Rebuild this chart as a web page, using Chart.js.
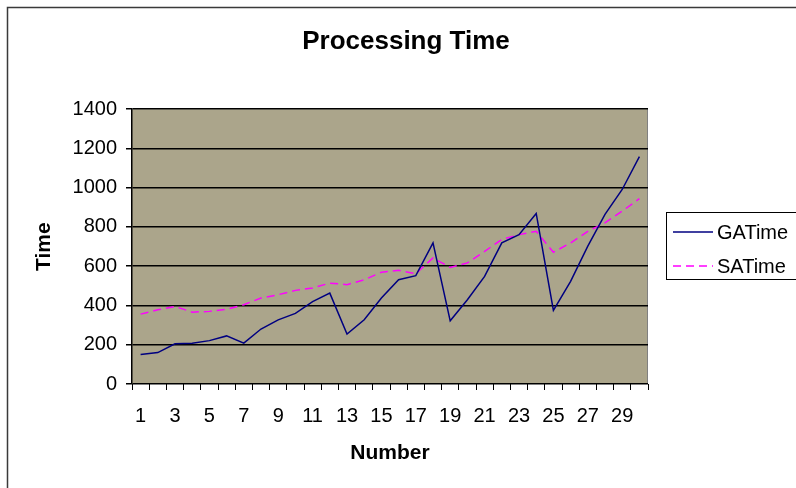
<!DOCTYPE html>
<html>
<head>
<meta charset="utf-8">
<script src="https://cdn.jsdelivr.net/npm/chart.js@4.4.0/dist/chart.umd.min.js"></script>
<style>
  html, body { margin: 0; padding: 0; background: #fff; }
</style>
</head>
<body>
<canvas id="chart" width="796" height="488"></canvas>
<script>
// x軸のカテゴリ (Number)
const numbers = [1, 2, 3, 4, 5, 6, 7, 8, 9, 10, 11, 12, 13, 14, 15,
                 16, 17, 18, 19, 20, 21, 22, 23, 24, 25, 26, 27, 28, 29, 30];
// GATime の値
const gaTime = [150, 160, 205, 208, 221, 245, 208, 280, 327, 360,
                420, 463, 254, 327, 438, 531, 552, 719, 322, 429,
                548, 719, 761, 869, 375, 523, 702, 864, 991, 1158];
// SATime の値
const saTime = [356, 378, 395, 366, 370, 381, 404, 438, 455, 477,
                489, 514, 506, 531, 569, 579, 562, 642, 594, 617,
                676, 736, 761, 778, 671, 719, 778, 821, 881, 944];
// y軸の目盛り
const yTickValues = [0, 200, 400, 600, 800, 1000, 1200, 1400];

const FONT = "'Liberation Sans', Arial, sans-serif";
Chart.defaults.font.family = FONT;
Chart.defaults.color = '#000';

// 外枠とプロットエリアの背景
const background = {
    id: 'background',
    beforeDraw(chart) {
        const ctx = chart.ctx;
        const a = chart.chartArea;
        ctx.save();
        ctx.strokeStyle = '#3a3a3a';
        ctx.lineWidth = 1.5;
        ctx.strokeRect(7.5, 7.5, 1000, 1000);
        ctx.fillStyle = '#aba58b';
        ctx.fillRect(a.left, a.top, a.right - a.left, a.bottom - a.top);
        ctx.strokeStyle = '#808080';
        ctx.lineWidth = 1;
        ctx.beginPath();
        ctx.moveTo(a.right - 0.5, a.top);
        ctx.lineTo(a.right - 0.5, a.bottom);
        ctx.stroke();
        ctx.restore();
    }
};

// 枠付きの凡例 (Excel風)
const boxLegend = {
    id: 'boxLegend',
    afterDraw(chart) {
        const ctx = chart.ctx;
        ctx.save();
        ctx.strokeStyle = '#000';
        ctx.lineWidth = 1;
        ctx.setLineDash([]);
        ctx.strokeRect(666.5, 212.5, 160, 67);
        chart.data.datasets.forEach((ds, i) => {
            const y = 232 + i * 34;
            ctx.strokeStyle = ds.borderColor;
            ctx.lineWidth = ds.borderWidth;
            ctx.setLineDash(ds.borderDash || []);
            ctx.beginPath();
            ctx.moveTo(673, y);
            ctx.lineTo(713, y);
            ctx.stroke();
            ctx.setLineDash([]);
            ctx.fillStyle = '#000';
            ctx.font = '20px ' + FONT;
            ctx.textBaseline = 'middle';
            ctx.fillText(ds.label, 717, y + 1);
        });
        ctx.restore();
    }
};

const ctx = document.getElementById('chart').getContext('2d');
new Chart(ctx, {
    type: 'line',
    data: {
        labels: numbers,
        datasets: [{
            label: 'GATime',
            data: gaTime,
            borderColor: '#000080',
            borderWidth: 1.5,
            pointRadius: 0,
            tension: 0,
            fill: false
        }, {
            label: 'SATime',
            data: saTime,
            borderColor: '#ff00ff',
            borderWidth: 1.5,
            borderDash: [8, 5],
            pointRadius: 0,
            tension: 0,
            fill: false
        }]
    },
    options: {
        responsive: false,
        animation: false,
        devicePixelRatio: 1,
        layout: { padding: { left: 16, right: 0, top: 0, bottom: 0 } },
        plugins: {
            legend: { display: false },
            tooltip: { enabled: false },
            title: {
                display: true,
                text: 'Processing Time',
                color: '#000',
                font: { size: 26, weight: 'bold' },
                padding: { top: 26, bottom: 52 }
            }
        },
        scales: {
            x: {
                offset: true,
                grid: {
                    offset: true,
                    drawOnChartArea: false,
                    color: '#000',
                    tickLength: 6
                },
                border: { display: false },
                ticks: {
                    autoSkip: false,
                    maxRotation: 0,
                    padding: 14,
                    font: { size: 20 },
                    callback: (v, i) => (i % 2 === 0 ? String(numbers[i]) : '')
                },
                title: {
                    display: true,
                    text: 'Number',
                    font: { size: 21, weight: 'bold' },
                    padding: { top: 0, bottom: 22 }
                },
                afterFit: s => { s.height = 104; }
            },
            y: {
                min: yTickValues[0],
                max: yTickValues[yTickValues.length - 1],
                afterBuildTicks: s => { s.ticks = yTickValues.map(v => ({ value: v })); },
                grid: {
                    color: '#000',
                    lineWidth: 1.5,
                    tickLength: 6
                },
                border: { display: true, color: '#000', width: 1.5 },
                ticks: {
                    padding: 9,
                    font: { size: 20 },
                    callback: v => String(v)
                },
                title: {
                    display: true,
                    text: 'Time',
                    font: { size: 21, weight: 'bold' },
                    padding: { top: 16, bottom: 0 }
                },
                afterFit: s => { s.width = 116; }
            },
            // 右側の凡例用スペース
            pad: {
                type: 'linear',
                position: 'right',
                display: true,
                grid: { display: false },
                border: { display: false },
                ticks: { display: false },
                afterFit: s => { s.width = 148; }
            }
        }
    },
    plugins: [background, boxLegend]
});
</script>
</body>
</html>
